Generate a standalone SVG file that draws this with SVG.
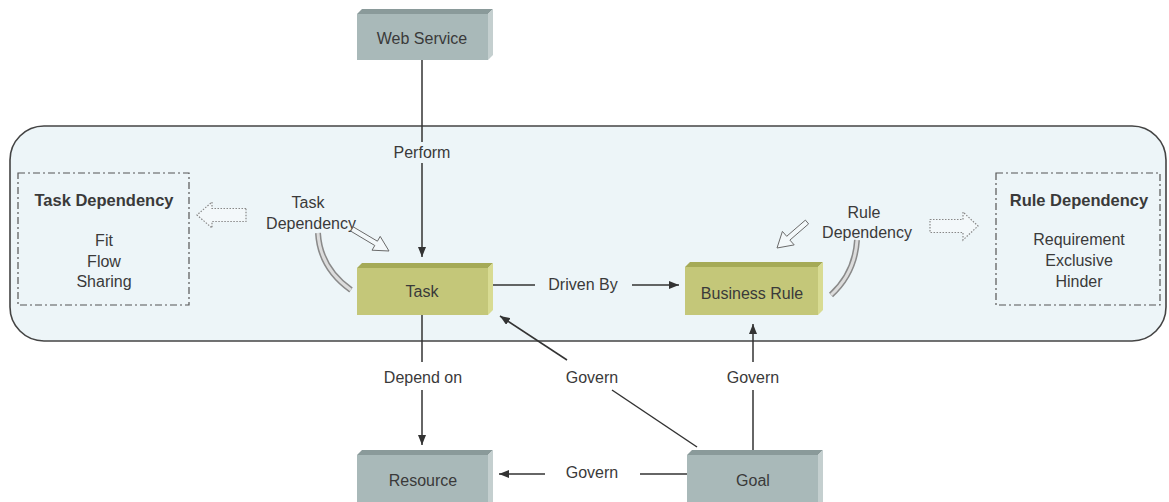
<svg xmlns="http://www.w3.org/2000/svg" width="1169" height="502" viewBox="0 0 1169 502">
<style>
text{font-family:"Liberation Sans",Arial,sans-serif;font-size:16px;fill:#3a3a3a;text-anchor:middle;dominant-baseline:central}
.title{font-weight:bold;font-size:16.5px}
.conn{stroke:#333;stroke-width:1.5;fill:none}
.dash{fill:none;stroke:#555;stroke-width:1.2;stroke-dasharray:7 3 2 3}
.gface{fill:#a9b9b9}.gtop{fill:#8a9a9a}.gside{fill:#c4cfcf}
.oface{fill:#c4c779}.otop{fill:#a5aa57}.oside{fill:#d8db92}
.hollow{fill:#f3f8fa;stroke:#6a6a6a;stroke-width:1}
.dotted{fill:#f3f8fa;stroke:#888;stroke-width:1.2;stroke-dasharray:1.5 1.5}
</style>
<defs>
<marker id="ah" viewBox="0 0 10 8" refX="10" refY="4" markerWidth="10" markerHeight="8" markerUnits="userSpaceOnUse" orient="auto">
<path d="M0,0 L10,4 L0,8 z" fill="#333"/>
</marker>
</defs>
<rect x="0" y="0" width="1169" height="502" fill="#ffffff"/>
<g id="container">
<rect x="10" y="126" width="1156" height="215" rx="34" ry="34" fill="#edf5f8" stroke="#444" stroke-width="1.6"/>
</g>
<g id="task-dependency-box">
<rect class="dash" x="18" y="173" width="171" height="132"/>
<text class="title" x="104" y="200">Task Dependency</text>
<text x="104" y="240">Fit</text>
<text x="104" y="261">Flow</text>
<text x="104" y="281">Sharing</text>
</g>
<g id="rule-dependency-box">
<rect class="dash" x="996" y="173" width="164" height="132"/>
<text class="title" x="1079" y="200">Rule Dependency</text>
<text x="1079" y="239">Requirement</text>
<text x="1079" y="260">Exclusive</text>
<text x="1079" y="281">Hinder</text>
</g>
<g id="web-service">
<polygon class="gtop" points="357,14 362,9 493,9 488,14"/>
<polygon class="gside" points="488,14 493,9 493,55 488,60"/>
<rect class="gface" x="357" y="14" width="131" height="46"/>
<text x="422" y="38">Web Service</text>
</g>
<g id="task">
<polygon class="otop" points="357,268 362,263 493,263 488,268"/>
<polygon class="oside" points="488,268 493,263 493,310 488,315"/>
<rect class="oface" x="357" y="268" width="131" height="47"/>
<text x="422" y="291">Task</text>
</g>
<g id="business-rule">
<polygon class="otop" points="685,267 690,262 823,262 818,267"/>
<polygon class="oside" points="818,267 823,262 823,310 818,315"/>
<rect class="oface" x="685" y="267" width="133" height="48"/>
<text x="752" y="293">Business Rule</text>
</g>
<g id="resource">
<polygon class="gtop" points="357,455 362,450 493,450 488,455"/>
<polygon class="gside" points="488,455 493,450 493,502 488,502"/>
<rect class="gface" x="357" y="455" width="131" height="47"/>
<text x="423" y="480">Resource</text>
</g>
<g id="goal">
<polygon class="gtop" points="687,455 692,450 823,450 818,455"/>
<polygon class="gside" points="818,455 823,450 823,502 818,502"/>
<rect class="gface" x="687" y="455" width="131" height="47"/>
<text x="753" y="480">Goal</text>
</g>
<g id="task-dependency-label">
<text x="308" y="202">Task</text>
<text x="311" y="223">Dependency</text>
<path d="M318,233 Q320,268 351,290" fill="none" stroke="#8a8a8a" stroke-width="6"/>
<path d="M318,233 Q320,268 351,290" fill="none" stroke="#dcdcdc" stroke-width="3"/>
<polygon class="hollow" points="350.7,231.1 374.8,245.5 372,250.2 389,251 380.2,236.4 377.4,241.2 353.3,226.9"/>
<polygon class="dotted" points="246,208.5 212,208.5 212,202 197,215 212,228 212,221.5 246,221.5"/>
</g>
<g id="rule-dependency-label">
<text x="864" y="212">Rule</text>
<text x="867" y="232">Dependency</text>
<path d="M857,240 Q855,273 831,295" fill="none" stroke="#8a8a8a" stroke-width="6"/>
<path d="M857,240 Q855,273 831,295" fill="none" stroke="#dcdcdc" stroke-width="3"/>
<polygon class="hollow" points="805.4,220.1 786.7,236.3 782.4,231.4 777,248 794.2,244.9 789.9,240.1 808.6,223.9"/>
<polygon class="dotted" points="930,219.5 963,219.5 963,212 978,226 963,240 963,232.5 930,232.5"/>
</g>
<g id="connectors">
<line class="conn" x1="422" y1="60" x2="422" y2="142"/>
<line class="conn" x1="422" y1="163" x2="422" y2="257" marker-end="url(#ah)"/>
<text x="422" y="152">Perform</text>
<line class="conn" x1="493" y1="285" x2="535" y2="285"/>
<line class="conn" x1="632" y1="285" x2="679" y2="285" marker-end="url(#ah)"/>
<text x="583" y="284">Driven By</text>
<line class="conn" x1="422" y1="315" x2="422" y2="362"/>
<line class="conn" x1="422" y1="390" x2="422" y2="445" marker-end="url(#ah)"/>
<text x="423" y="377">Depend on</text>
<line class="conn" x1="697" y1="447" x2="612" y2="390"/>
<line class="conn" x1="567" y1="360" x2="500" y2="316" marker-end="url(#ah)"/>
<text x="592" y="377">Govern</text>
<line class="conn" x1="753" y1="450" x2="753" y2="390"/>
<line class="conn" x1="753" y1="362" x2="753" y2="324" marker-end="url(#ah)"/>
<text x="753" y="377">Govern</text>
<line class="conn" x1="687" y1="474" x2="640" y2="474"/>
<line class="conn" x1="545" y1="474" x2="499" y2="474" marker-end="url(#ah)"/>
<text x="592" y="472">Govern</text>
</g>
</svg>
